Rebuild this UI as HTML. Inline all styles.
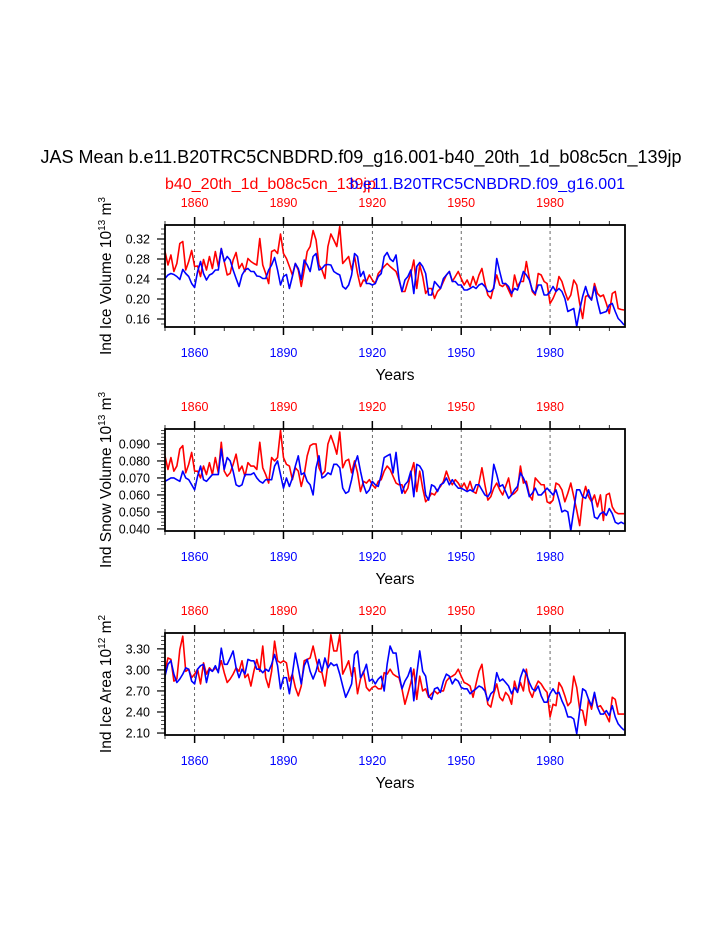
<!DOCTYPE html>
<html><head><meta charset="utf-8"><style>
html,body{margin:0;padding:0;background:#fff;}
svg{display:block;font-family:"Liberation Sans",Arial,sans-serif;}
</style></head><body>
<svg id="chart" width="723" height="935" viewBox="0 0 723 935">
<text x="361" y="163" text-anchor="middle" font-size="18" fill="#000">JAS Mean b.e11.B20TRC5CNBDRD.f09_g16.001-b40_20th_1d_b08c5cn_139jp</text>
<text x="165" y="189" font-size="16" fill="#f00">b40_20th_1d_b08c5cn_139jp</text>
<text x="625" y="189" text-anchor="end" font-size="16" fill="#00f">b.e11.B20TRC5CNBDRD.f09_g16.001</text>
<g id="panels"></g>
</svg>
<script>
const years = []; for (let y = 1850; y <= 2005; y++) years.push(y);
const xTickYears = [1860, 1890, 1920, 1950, 1980];

const iceVolRed = [.295,.268,.288,.255,.271,.311,.315,.258,.275,.297,
.265,.266,.245,.279,.258,.285,.261,.295,.265,.301,
.275,.248,.251,.278,.293,.261,.271,.255,.281,.275,
.271,.268,.321,.268,.251,.231,.295,.298,.291,.330,
.291,.281,.265,.248,.271,.258,.225,.258,.295,.305,
.337,.318,.268,.258,.241,.305,.330,.318,.305,.345,
.271,.278,.285,.258,.285,.251,.225,.238,.235,.248,
.238,.231,.251,.258,.265,.271,.265,.260,.255,.238,
.215,.215,.235,.251,.278,.221,.268,.245,.211,.221,
.221,.201,.215,.221,.235,.248,.255,.235,.245,.255,
.241,.228,.238,.225,.245,.228,.248,.261,.231,.208,
.201,.225,.248,.228,.225,.231,.218,.205,.248,.225,
.235,.235,.275,.241,.215,.208,.251,.248,.235,.231,
.191,.201,.215,.245,.235,.215,.198,.208,.238,.228,
.191,.161,.205,.208,.198,.231,.211,.205,.208,.191,
.171,.211,.215,.181,.179,.178];
const iceVolBlue = [.241,.248,.251,.249,.245,.239,.259,.251,.245,.231,
.223,.255,.275,.251,.238,.248,.251,.258,.258,.301,
.275,.285,.278,.258,.241,.225,.248,.258,.261,.255,
.255,.246,.245,.241,.241,.258,.268,.283,.258,.228,
.245,.249,.221,.245,.271,.261,.239,.278,.268,.255,
.285,.291,.258,.261,.268,.269,.268,.255,.251,.248,
.225,.220,.228,.248,.291,.285,.245,.255,.231,.231,
.228,.231,.245,.251,.285,.293,.280,.275,.288,.241,
.215,.238,.245,.258,.211,.265,.273,.265,.251,.208,
.208,.235,.228,.221,.241,.248,.255,.235,.235,.228,
.228,.218,.218,.221,.225,.221,.228,.231,.225,.215,
.215,.221,.281,.255,.231,.231,.225,.211,.221,.218,
.235,.255,.248,.238,.218,.211,.228,.228,.208,.208,
.215,.225,.215,.221,.215,.201,.175,.178,.181,.145,
.178,.205,.225,.205,.198,.225,.195,.171,.173,.175,
.188,.191,.175,.161,.155,.148];
const snowVolRed = [.083,.075,.082,.074,.077,.087,.089,.073,.078,.085,
.074,.074,.070,.077,.072,.079,.072,.082,.073,.091,
.074,.071,.073,.078,.084,.074,.077,.071,.079,.077,
.077,.075,.091,.076,.072,.067,.082,.080,.082,.098,
.082,.078,.077,.069,.076,.074,.065,.072,.083,.089,
.090,.090,.076,.072,.074,.090,.095,.090,.084,.097,
.076,.080,.081,.073,.080,.073,.062,.068,.067,.069,
.066,.064,.068,.069,.074,.077,.075,.071,.067,.066,
.066,.061,.064,.073,.079,.062,.074,.064,.056,.058,
.061,.060,.063,.065,.068,.074,.069,.066,.069,.067,
.064,.067,.063,.068,.062,.061,.067,.076,.066,.057,
.059,.064,.067,.063,.060,.065,.070,.060,.061,.063,
.077,.067,.068,.060,.057,.070,.068,.066,.066,.056,
.055,.057,.067,.066,.063,.056,.061,.067,.059,.051,
.042,.058,.065,.059,.056,.060,.053,.060,.045,.060,
.061,.053,.050,.049,.049,.049];
const snowVolBlue = [.068,.069,.070,.070,.069,.068,.074,.070,.069,.066,
.063,.071,.077,.069,.068,.070,.072,.072,.072,.087,
.075,.082,.080,.074,.066,.065,.066,.072,.072,.072,
.073,.070,.068,.067,.069,.069,.069,.077,.080,.072,
.064,.070,.065,.070,.077,.083,.072,.073,.068,.066,
.060,.076,.083,.070,.071,.073,.072,.078,.078,.076,
.064,.061,.062,.069,.078,.083,.074,.066,.061,.063,
.068,.066,.065,.072,.082,.083,.084,.073,.085,.069,
.061,.066,.068,.074,.059,.078,.077,.074,.060,.057,
.066,.065,.062,.066,.067,.070,.066,.069,.066,.064,
.064,.063,.062,.063,.062,.066,.066,.063,.060,.059,
.062,.078,.072,.065,.066,.062,.058,.060,.063,.065,
.073,.070,.066,.059,.061,.064,.060,.060,.062,.064,
.062,.060,.063,.057,.050,.051,.050,.039,.051,.063,
.063,.059,.058,.063,.057,.047,.046,.049,.050,.048,
.052,.049,.044,.043,.044,.043];
const iceAreaRed = [2.98,3.17,3.15,2.84,2.87,3.29,3.48,2.98,3.01,2.89,
2.94,3.01,2.80,3.10,2.94,3.03,2.98,3.03,2.98,3.13,
2.96,2.82,2.87,2.94,3.03,2.98,3.13,2.89,2.94,2.77,
2.98,3.15,2.98,3.34,2.89,2.75,2.98,3.41,3.13,3.10,
3.13,3.10,2.84,2.94,2.75,2.63,2.77,3.13,3.15,3.17,
3.34,3.15,2.98,2.96,2.77,3.08,3.50,3.27,3.27,3.50,
2.94,3.03,3.13,2.91,3.03,2.66,2.87,2.98,2.75,2.70,
2.75,2.77,2.73,2.73,2.96,2.94,3.01,2.94,2.91,2.89,
2.73,2.51,2.66,2.82,3.01,2.58,2.91,2.70,2.73,2.61,
2.66,2.70,2.66,2.70,2.70,2.84,2.89,2.91,2.94,3.01,
2.91,2.82,2.80,2.77,2.61,2.80,2.98,3.08,2.75,2.51,
2.47,2.66,2.80,2.61,2.56,2.68,2.63,2.51,2.84,2.68,
2.82,2.70,3.01,2.70,2.61,2.75,2.84,2.80,2.73,2.68,
2.33,2.51,2.49,2.82,2.75,2.63,2.49,2.54,2.91,2.75,
2.44,2.42,2.21,2.58,2.44,2.66,2.47,2.49,2.42,2.35,
2.26,2.61,2.58,2.37,2.37,2.37];
const iceAreaBlue = [2.91,3.08,3.13,2.94,2.82,2.87,2.94,3.03,3.01,2.84,
2.80,3.01,3.06,3.08,2.82,3.01,2.98,3.06,2.96,3.31,
3.08,3.08,3.17,3.27,3.03,2.89,3.01,2.94,3.15,3.13,
3.13,3.01,3.01,2.96,3.01,2.98,3.08,3.22,3.06,2.73,
2.89,2.89,2.66,2.94,3.24,3.03,2.80,3.06,3.15,2.98,
2.87,2.98,3.15,2.98,3.17,3.03,3.10,3.06,3.08,2.94,
2.77,2.61,2.70,2.80,3.22,3.27,2.89,2.96,3.08,2.84,
2.87,2.80,2.87,2.91,2.70,3.08,3.34,3.24,3.24,2.94,
2.73,2.84,2.91,3.03,2.56,2.94,3.27,2.98,2.91,2.63,
2.58,2.73,2.75,2.68,2.84,2.94,2.91,2.80,2.87,2.84,
2.75,2.73,2.73,2.66,2.70,2.73,2.77,2.75,2.70,2.56,
2.66,2.70,2.96,2.84,2.87,2.82,2.77,2.66,2.75,2.68,
2.89,3.01,2.94,2.82,2.73,2.70,2.77,2.63,2.54,2.54,
2.66,2.73,2.66,2.68,2.56,2.47,2.33,2.33,2.30,2.09,
2.42,2.73,2.70,2.58,2.49,2.68,2.47,2.37,2.37,2.42,
2.35,2.49,2.33,2.23,2.18,2.14];

const ySpec1 = {ticks:[0.16,0.20,0.24,0.28,0.32], labels:["0.16","0.20","0.24","0.28","0.32"], minor:0.01};
const ySpec2 = {ticks:[0.040,0.050,0.060,0.070,0.080,0.090], labels:["0.040","0.050","0.060","0.070","0.080","0.090"], minor:0.002};
const ySpec3 = {ticks:[2.10,2.40,2.70,3.00,3.30], labels:["2.10","2.40","2.70","3.00","3.30"], minor:0.06};

const NS = "http://www.w3.org/2000/svg";
const root = document.getElementById('panels');
function mk(tag, attrs, parent){ const e=document.createElementNS(NS,tag); for(const k in attrs) e.setAttribute(k,attrs[k]); (parent||root).appendChild(e); return e; }

const X0=165, X1=625, YR0=1850, YR1=2005.3;
function xs(yr){ return X0 + (yr-YR0)/(YR1-YR0)*(X1-X0); }

function panel(idx, top, vmin, vmax, yspec, red, blue, labelMain, sup1, labelUnit, sup2, name){
  const bot = top+102;
  const g = mk('g',{});
  
  
  const ys = v => bot - (v-vmin)/(vmax-vmin)*(bot-top);
  xTickYears.forEach(yr=>{
    const l = mk('line',{x1:xs(yr),x2:xs(yr),y1:top,y2:bot,stroke:'#444','stroke-width':0.8,'stroke-dasharray':'3,3'},g);
    
    
  });
  for(let yr=1850; yr<=2000; yr+=10){
    const major = xTickYears.includes(yr);
    const len = major?8:4;
    const t1 = mk('line',{x1:xs(yr),x2:xs(yr),y1:top,y2:top-len,stroke:'#000','stroke-width':major?1.5:0.8},g);
    
    
    const t2 = mk('line',{x1:xs(yr),x2:xs(yr),y1:bot,y2:bot+len,stroke:'#000','stroke-width':major?1.5:0.8},g);
    
    
  }
  xTickYears.forEach(yr=>{
    const a = mk('text',{x:xs(yr),y:top-18,'text-anchor':'middle','font-size':12.5,fill:'#f00'},g);
    a.textContent = yr;
    
    
    const b = mk('text',{x:xs(yr),y:bot+30,'text-anchor':'middle','font-size':12.5,fill:'#00f'},g);
    b.textContent = yr;
    
    
  });
  const start = Math.ceil(vmin/yspec.minor - 1e-6);
  for(let k=start; k*yspec.minor<=vmax+1e-9; k++){
    const v=k*yspec.minor;
    const m = mk('line',{x1:X0,x2:X0-4,y1:ys(v),y2:ys(v),stroke:'#000','stroke-width':0.7},g);
    
    
  }
  yspec.ticks.forEach((v,i)=>{
    const m = mk('line',{x1:X0,x2:X0-8,y1:ys(v),y2:ys(v),stroke:'#000','stroke-width':1.2},g);
    
    
    const t = mk('text',{x:X0-15,y:ys(v)+4.5,'text-anchor':'end','font-size':12.5,fill:'#000'},g);
    t.textContent = yspec.labels[i];
    
    
  });
  const cp = mk('clipPath',{id:'clip'+idx},g);
  mk('rect',{x:X0,y:top,width:X1-X0,height:bot-top},cp);
  const sg = mk('g',{'clip-path':'url(#clip'+idx+')'},g);
  
  
  (function(){ const vals=red; const d = vals.map((v,i)=>(i?'L':'M')+xs(years[i]).toFixed(2)+','+ys(v).toFixed(2)).join('');
    const p = mk('path',{d:d,fill:'none',stroke:'#f00','stroke-width':1.6,'stroke-linejoin':'round'},sg);
    
     })();
  (function(){ const vals=blue; const d = vals.map((v,i)=>(i?'L':'M')+xs(years[i]).toFixed(2)+','+ys(v).toFixed(2)).join('');
    const p = mk('path',{d:d,fill:'none',stroke:'#00f','stroke-width':1.6,'stroke-linejoin':'round'},sg);
    
     })();
  const fr = mk('rect',{x:X0,y:top,width:X1-X0,height:bot-top,fill:'none',stroke:'#000','stroke-width':1.8},g);
  
  
  const xt = mk('text',{x:(X0+X1)/2,y:bot+53,'text-anchor':'middle','font-size':15.5,fill:'#000'},g);
  xt.textContent='Years';
  
  
  const cy=(top+bot)/2;
  const yt = mk('text',{x:0,y:0,'text-anchor':'middle','font-size':15.5,fill:'#000',transform:'translate(111,'+cy+') rotate(-90)'},g);
  
  
  const s1=document.createElementNS(NS,'tspan'); s1.textContent=labelMain; yt.appendChild(s1);
  const s2=document.createElementNS(NS,'tspan'); s2.setAttribute('dy','-6'); s2.setAttribute('font-size','10'); s2.textContent=sup1; yt.appendChild(s2);
  const s3=document.createElementNS(NS,'tspan'); s3.setAttribute('dy','6'); s3.textContent=' '+labelUnit; yt.appendChild(s3);
  const s4=document.createElementNS(NS,'tspan'); s4.setAttribute('dy','-6'); s4.setAttribute('font-size','10'); s4.textContent=sup2; yt.appendChild(s4);
}
panel(1, 225, 0.144, 0.348, ySpec1, iceVolRed, iceVolBlue, 'Ind Ice Volume 10', '13', 'm', '3', 'ice-volume');
panel(2, 429, 0.0388, 0.0988, ySpec2, snowVolRed, snowVolBlue, 'Ind Snow Volume 10', '13', 'm', '3', 'snow-volume');
panel(3, 633, 2.072, 3.526, ySpec3, iceAreaRed, iceAreaBlue, 'Ind Ice Area 10', '12', 'm', '2', 'ice-area');
</script>
</body></html>
